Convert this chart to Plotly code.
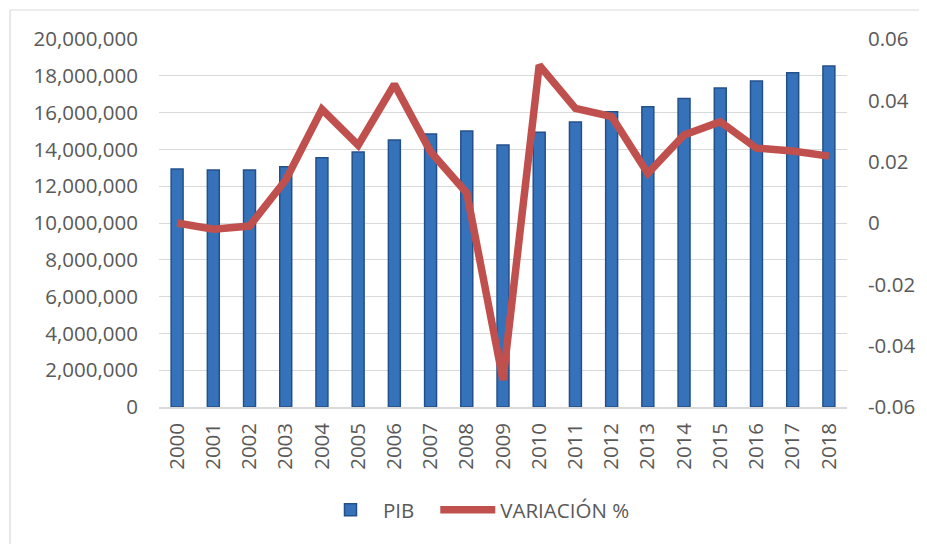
import plotly.graph_objects as go

years = [str(y) for y in range(2000, 2019)]
pib = [12930000, 12880000, 12880000, 13060000, 13550000, 13860000, 14510000, 14840000,
       15000000, 14240000, 14930000, 15490000, 16050000, 16320000, 16760000, 17340000,
       17720000, 18170000, 18530000]
variacion = [0.0, -0.002, -0.001, 0.014, 0.0371, 0.0254, 0.0452, 0.0232, 0.0098, -0.0512,
             0.0515, 0.0374, 0.0347, 0.0162, 0.0287, 0.0330, 0.0244, 0.0235, 0.0218]
left_ticks = [0, 2000000, 4000000, 6000000, 8000000, 10000000, 12000000, 14000000,
              16000000, 18000000, 20000000]
right_ticks = [-0.06, -0.04, -0.02, 0, 0.02, 0.04, 0.06]
right_text = ["-0.06", "-0.04", "-0.02", "0", "0.02", "0.04", "0.06"]

FONT = "Open Sans"
TXT = "#595959"
GRID = "#d9d9d9"
FS = 20.5

fig = go.Figure()
fig.add_trace(go.Bar(
    x=years, y=pib, name="PIB\u00a0\u00a0\u00a0", width=0.33,
    marker=dict(color="#3672ba", line=dict(color="#24508a", width=1.5)),
))
fig.add_trace(go.Scatter(
    x=years, y=variacion, name="VARIACIÓN %", yaxis="y2", mode="lines",
    line=dict(color="#C0504D", width=7.5),
))

OFF = 8  # page body margin
W, H = 927 - OFF, 544 - OFF
L, R, T, B = 159 - OFF, 847 - OFF, 39 - OFF, 407 - OFF
pw, ph = R - L, B - T

def px(x):
    return (x - OFF - L) / pw

def py(y):
    return (B - (y - OFF)) / ph

fig.update_layout(
    width=W, height=H,
    margin=dict(l=L, r=W - R, t=T, b=H - B, pad=0),
    paper_bgcolor="white", plot_bgcolor="white",
    font=dict(family=FONT, size=FS, color=TXT),
    showlegend=True,
    legend=dict(orientation="h", x=px(318), y=py(510), xanchor="left", yanchor="middle",
                font=dict(size=FS, color=TXT), itemwidth=55, bgcolor="rgba(0,0,0,0)"),
    xaxis=dict(type="category", tickangle=-90, showgrid=False, showline=True,
               linecolor=GRID, linewidth=1.5, ticks="", ticklabelstandoff=6,
               tickfont=dict(size=FS, color=TXT)),
    yaxis=dict(range=[0, 20000000], tickvals=left_ticks, tickformat=",d",
               showgrid=True, gridcolor=GRID, gridwidth=1.3, zeroline=False,
               showline=False, ticks="", ticklabelstandoff=20,
               tickfont=dict(size=FS, color=TXT)),
    yaxis2=dict(range=[-0.06, 0.06], overlaying="y", side="right",
                tickvals=right_ticks, ticktext=right_text, showgrid=False,
                zeroline=False, showline=False, ticks="", ticklabelstandoff=20,
                tickfont=dict(size=FS, color=TXT)),
    shapes=[dict(type="rect", xref="paper", yref="paper",
                 x0=px(10), x1=px(940), y0=py(560), y1=py(10),
                 line=dict(color=GRID, width=1.2), fillcolor="rgba(0,0,0,0)", layer="below")],
)

fig.write_html("out.html")
